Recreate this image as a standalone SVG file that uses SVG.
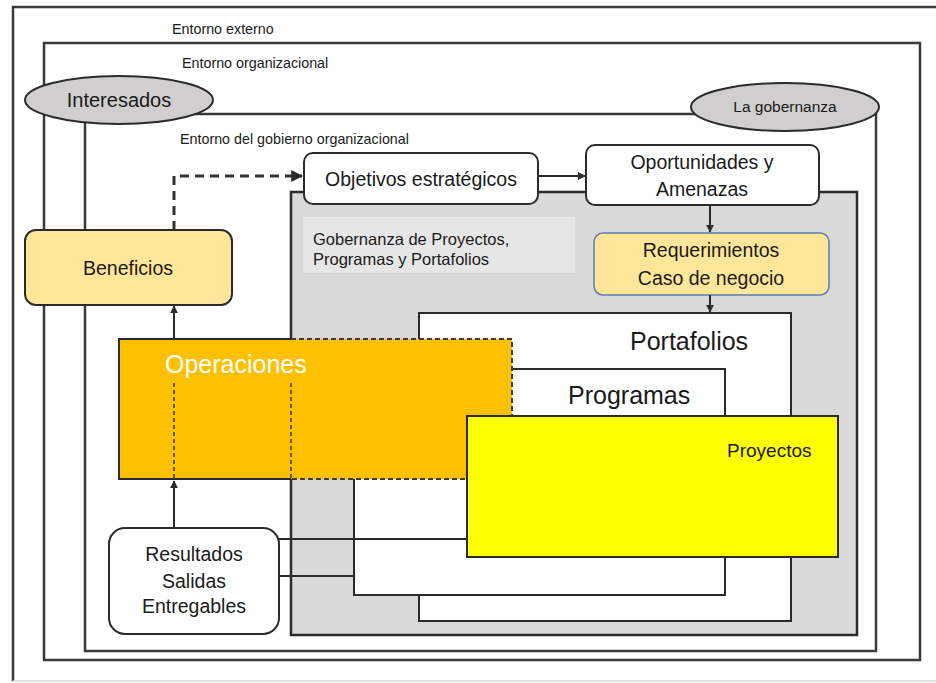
<svg xmlns="http://www.w3.org/2000/svg" width="936" height="683" viewBox="0 0 936 683">
  <style>
    text { font-family: "Liberation Sans", Arial, sans-serif; fill: #1a1a1a; }
    .frame { fill: none; stroke: #3a3a3a; stroke-width: 2.5; }
    .box { fill: #ffffff; stroke: #2b2b2b; stroke-width: 2; }
    .warm { fill: #FFE699; }
    .oval { fill: #D0CECE; stroke: #2b2b2b; stroke-width: 2; }
    .edge { fill: none; stroke: #2b2b2b; stroke-width: 2; }
    .hidden { fill: none; stroke: #3a3a3a; stroke-width: 1.6; stroke-dasharray: 4 3; }
    .env { font-size: 14.3px; }
    .node { font-size: 19.5px; text-anchor: middle; }
    .big { font-size: 25px; }
  </style>
  <defs>
    <marker id="arrow" viewBox="0 0 10 10" refX="9" refY="5" markerWidth="4" markerHeight="4" orient="auto" markerUnits="strokeWidth">
      <path d="M0,0 L10,5 L0,10 z" fill="#2b2b2b"/>
    </marker>
  </defs>

  <rect width="936" height="683" fill="#ffffff"/>

  <!-- nested environments -->
  <g id="entorno-externo">
    <path d="M13,681 V7 H936" class="frame"/>
    <line x1="13" y1="681" x2="936" y2="681" stroke="#d8d8d8" stroke-width="1.5"/>
    <text x="172" y="34" class="env">Entorno externo</text>
  </g>
  <g id="entorno-organizacional">
    <rect x="44" y="43" width="876" height="617" class="frame"/>
    <text x="182" y="68" class="env">Entorno organizacional</text>
  </g>
  <g id="entorno-gobierno">
    <rect x="85" y="114" width="791" height="537" class="frame"/>
    <text x="180" y="144" class="env">Entorno del gobierno organizacional</text>
  </g>

  <g id="interesados">
    <ellipse cx="119" cy="100" rx="94" ry="24" class="oval"/>
    <text x="119" y="107" class="node" style="font-size:20px">Interesados</text>
  </g>
  <g id="la-gobernanza">
    <ellipse cx="785" cy="107" rx="94" ry="24" class="oval"/>
    <text x="785" y="112" class="node" style="font-size:15.5px">La gobernanza</text>
  </g>

  <!-- governance region -->
  <g id="gobernanza-ppp">
    <rect x="291" y="192" width="566" height="443" fill="#D9D9D9" stroke="#2b2b2b" stroke-width="2.5"/>
    <rect x="303" y="217" width="272" height="56" fill="#E7E6E6"/>
    <text x="313" y="245" style="font-size:16.5px">Gobernanza de Proyectos,</text>
    <text x="313" y="265" style="font-size:16.5px">Programas y Portafolios</text>
  </g>

  <g id="portafolios">
    <rect x="419" y="313" width="372" height="308" class="box"/>
    <text x="630" y="350" class="big">Portafolios</text>
  </g>
  <g id="programas">
    <rect x="354" y="369" width="371" height="226" class="box"/>
    <text x="568" y="404" class="big">Programas</text>
  </g>

  <g id="operaciones">
    <rect x="119" y="339" width="393" height="140" fill="#FFC000"/>
    <path d="M291,339 H119 V479 H291" class="edge"/>
    <path d="M291,339 H512 V479 H291" fill="none" stroke="#3a3a3a" stroke-width="2" stroke-dasharray="5 3"/>
    <line x1="174" y1="383" x2="174" y2="479" class="hidden"/>
    <line x1="291" y1="383" x2="291" y2="479" class="hidden"/>
    <text x="165" y="373" class="big" style="fill:#ffffff">Operaciones</text>
  </g>

  <g id="proyectos">
    <rect x="467" y="416" width="371" height="141" fill="#FFFF00" stroke="#2b2b2b" stroke-width="2"/>
    <text x="727" y="457" style="font-size:19px">Proyectos</text>
  </g>

  <g id="objetivos">
    <rect x="304" y="153" width="234" height="51" rx="9" class="box"/>
    <text x="421" y="186" class="node">Objetivos estratégicos</text>
  </g>
  <g id="oportunidades">
    <rect x="586" y="145" width="233" height="60" rx="9" class="box"/>
    <text x="702" y="169" class="node">Oportunidades y</text>
    <text x="702" y="196" class="node">Amenazas</text>
  </g>
  <g id="requerimientos">
    <rect x="594" y="233" width="235" height="62" rx="9" class="warm" stroke="#5B7DB1" stroke-width="1.5"/>
    <text x="711" y="257" class="node">Requerimientos</text>
    <text x="711" y="285" class="node">Caso de negocio</text>
  </g>
  <g id="beneficios">
    <rect x="25" y="230" width="207" height="75" rx="11" class="warm" stroke="#2b2b2b" stroke-width="2"/>
    <text x="128" y="275" class="node">Beneficios</text>
  </g>
  <g id="resultados">
    <rect x="109" y="528" width="170" height="106" rx="16" class="box"/>
    <text x="194" y="561" class="node">Resultados</text>
    <text x="194" y="588" class="node">Salidas</text>
    <text x="194" y="613" class="node">Entregables</text>
  </g>

  <!-- connectors -->
  <g id="connectors">
    <path d="M174,230 V176 H302" fill="none" stroke="#333" stroke-width="3" stroke-dasharray="9 6" marker-end="url(#arrow)"/>
    <line x1="538" y1="176" x2="585" y2="176" class="edge" marker-end="url(#arrow)"/>
    <line x1="710" y1="205" x2="710" y2="232" class="edge" marker-end="url(#arrow)"/>
    <line x1="710" y1="295" x2="710" y2="312" class="edge" marker-end="url(#arrow)"/>
    <line x1="174" y1="339" x2="174" y2="306" class="edge" marker-end="url(#arrow)"/>
    <line x1="174" y1="528" x2="174" y2="481" class="edge" marker-end="url(#arrow)"/>
    <line x1="279" y1="539" x2="467" y2="539" class="edge"/>
    <line x1="279" y1="576" x2="354" y2="576" class="edge"/>
  </g>
</svg>
